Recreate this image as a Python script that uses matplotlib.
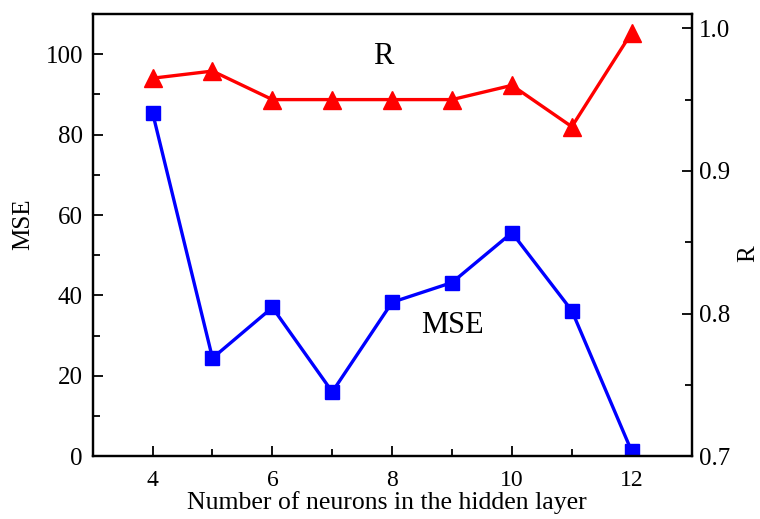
import numpy as np
import matplotlib
matplotlib.use("Agg")
from matplotlib import pyplot as plt
from matplotlib.ticker import MultipleLocator, FormatStrFormatter

neurons = [4, 5, 6, 7, 8, 9, 10, 11, 12]
mse = [85.4, 24.4, 37.0, 16.0, 38.3, 43.2, 55.6, 36.2, 1.2]
r_val = [0.965, 0.970, 0.950, 0.950, 0.950, 0.950, 0.960, 0.931, 0.997]

plt.rcParams['font.family'] = ['Liberation Serif', 'DejaVu Serif']

fig, ax = plt.subplots(figsize=(7.6, 5.19), dpi=100)
fig.subplots_adjust(left=0.122, right=0.91, top=0.973, bottom=0.121)
ax2 = ax.twinx()

ax.plot(neurons, mse, color='blue', lw=2.4, marker='s', ms=10)
ax2.plot(neurons, r_val, color='red', lw=2.4, marker='^', ms=13)

ax.set_xlim(3, 13)
ax.set_ylim(0, 110)
ax2.set_ylim(0.7, 1.01)

ax.xaxis.set_major_locator(MultipleLocator(2))
ax.xaxis.set_minor_locator(MultipleLocator(1))
ax.yaxis.set_major_locator(MultipleLocator(20))
ax.yaxis.set_minor_locator(MultipleLocator(10))
ax2.yaxis.set_major_locator(MultipleLocator(0.1))
ax2.yaxis.set_minor_locator(MultipleLocator(0.05))
ax2.yaxis.set_major_formatter(FormatStrFormatter('%.1f'))

ax.tick_params(axis='both', which='both', direction='in', top=False, right=False)
ax.tick_params(axis='x', labelsize=17, pad=10)
ax.tick_params(axis='y', labelsize=18, pad=7)
ax.tick_params(which='major', length=7, width=1.3)
ax.tick_params(which='minor', length=5, width=1.3)
ax2.tick_params(axis='y', which='both', direction='in', labelsize=18, pad=5.5)
ax2.tick_params(which='major', length=7, width=1.3)
ax2.tick_params(which='minor', length=5, width=1.3)

for a in (ax, ax2):
    for s in a.spines.values():
        s.set_linewidth(1.6)

ax.set_xlabel('Number of neurons in the hidden layer', fontsize=18.5, labelpad=0)
ax.set_ylabel('MSE', fontsize=18, labelpad=8)
ax2.set_ylabel('R', fontsize=18, labelpad=5)
ax.xaxis.label.set_x(0.492)
ax.yaxis.label.set_y(0.525)
ax2.yaxis.label.set_y(0.457)

ax.text(7.85, 99.5, 'R', fontsize=22, ha='center', va='center')
ax.text(9.0, 32.5, 'MSE', fontsize=22, ha='center', va='center')

fig.savefig('out.png', dpi=100)
